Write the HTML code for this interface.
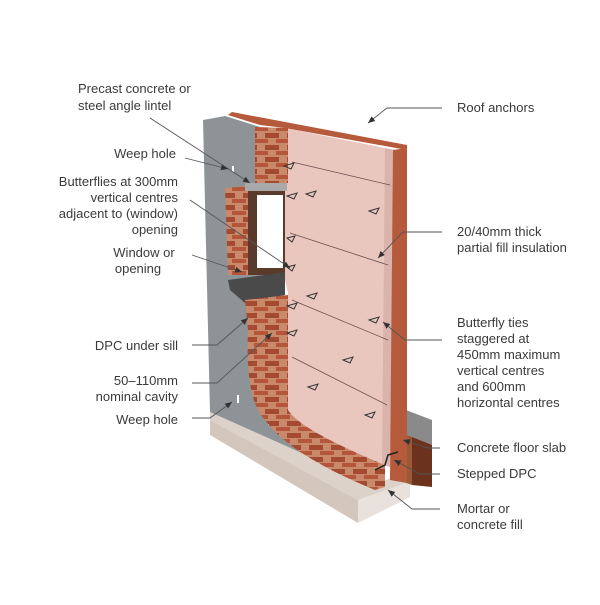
<!DOCTYPE html>
<html><head><meta charset="utf-8"><style>
html,body{margin:0;padding:0;background:#fff;}
svg text{font-family:"Liberation Sans",sans-serif;font-size:13px;fill:#3a3a3a;}
</style></head><body>
<svg width="600" height="600" viewBox="0 0 600 600" xmlns="http://www.w3.org/2000/svg">
<defs>
<pattern id="brick" width="22" height="12" patternUnits="userSpaceOnUse">
<rect width="22" height="12" fill="#c98a6c"/>
<rect x="1" y="1" width="14" height="5" fill="#a44a30"/>
<rect x="12" y="7" width="14" height="4" fill="#b5563a"/>
<rect x="-10" y="7" width="14" height="4" fill="#b5563a"/>
</pattern>
<marker id="ah" markerWidth="8" markerHeight="8" refX="7" refY="4" orient="auto" markerUnits="userSpaceOnUse">
<path d="M0,1 L7,4 L0,7 z" fill="#333"/></marker>
</defs>
<!-- foundation -->
<polygon points="210,410 380,482 410,472 410,482 358,500 210,420" fill="#ddd2ca"/>
<polygon points="210,420 358,500 358,523 210,435" fill="#d3c6bd"/>
<polygon points="358,500 410,482 410,497 358,523" fill="#e9e1db"/>
<!-- floor slab -->
<polygon points="398,407 432,420 432,445 398,432" fill="#8a8a8a"/>
<polygon points="398,432 412,437 412,485 398,480" fill="#9a5a38"/>
<polygon points="412,437 432,445 432,487 412,485" fill="#6b321e"/>
<!-- grey inner leaf -->
<polygon points="203,120 225,116 260,127 262,300 268,425 385,472 380,488 210,412" fill="#8e9398"/>
<!-- insulation -->
<polygon points="285,128 395,150 390,467 300,430 288,410 288,293 285,280" fill="#e9c6be"/>
<polygon points="385,148 395,150 390,467 382,464" fill="#d9b3ac"/>
<!-- outer leaf right edge -->
<polygon points="393,150 407,148 407,483 390,480" fill="#b55a3a"/>
<!-- outer leaf top edge -->
<polygon points="228,115 232,112 407,145 407,150 285,128 260,125" fill="#b55a3a"/>
<!-- bricks column top -->
<polygon points="255,127 288,128 288,183 255,183" fill="url(#brick)"/>
<!-- window reveal -->
<polygon points="225,188 248,186 248,275 228,275" fill="url(#brick)"/>
<rect x="248" y="190" width="37" height="85" fill="#5a3a2a"/>
<rect x="257" y="195" width="26" height="73" fill="#fff"/>
<polygon points="245,183 287,183 287,191 245,191" fill="#a9a9a9"/>
<!-- sill -->
<polygon points="228,280 285,272 285,295 245,303 230,290" fill="#4a4a4a"/>
<!-- bricks lower -->
<path d="M245,300 L288,295 L288,410 Q300,430 385,465 L385,487 L375,490 Q290,455 265,420 Q245,400 248,330 Z" fill="url(#brick)"/>
<!-- stepped dpc -->
<polyline points="375,470 385,465 388,455 398,452" fill="none" stroke="#222" stroke-width="1.5"/>
<!-- insulation lines -->
<g stroke="#6a5050" stroke-width="0.8">
<line x1="292" y1="162" x2="390" y2="185"/>
<line x1="290" y1="233" x2="388" y2="265"/>
<line x1="292" y1="300" x2="388" y2="340"/>
<line x1="292" y1="357" x2="387" y2="405"/>
</g>
<!-- ties -->
<g fill="none" stroke="#333" stroke-width="1">
<path d="M284,166 l10,-3 l-3,6 z"/><path d="M287,196 l10,-3 l-3,6 z"/><path d="M306,194 l10,-3 l-3,6 z"/>
<path d="M369,211 l10,-3 l-3,6 z"/><path d="M287,238 l8,-2 l-3,6 z"/><path d="M287,267 l8,-2 l-3,6 z"/>
<path d="M307,296 l10,-3 l-3,6 z"/><path d="M287,306 l10,-3 l-3,6 z"/><path d="M369,320 l10,-3 l-3,6 z"/>
<path d="M287,333 l10,-3 l-3,6 z"/><path d="M343,360 l10,-3 l-3,6 z"/><path d="M308,387 l10,-3 l-3,6 z"/>
<path d="M365,415 l10,-3 l-3,6 z"/>
</g>
<!-- weep holes -->
<rect x="232" y="166" width="2" height="6" fill="#fff"/>
<rect x="237" y="395" width="2" height="8" fill="#fff"/>
<!-- leaders -->
<g stroke="#555" stroke-width="0.9" fill="none" marker-end="url(#ah)">
<polyline points="150,118 250,183"/>
<polyline points="185,158 228,169"/>
<polyline points="190,200 290,268"/>
<polyline points="192,255 242,272"/>
<polyline points="192,345 217,345 248,318"/>
<polyline points="192,383 217,383 272,333"/>
<polyline points="192,418 210,418 232,402"/>
<polyline points="442,108 387,108 368,123"/>
<polyline points="442,232 403,232 378,258"/>
<polyline points="442,340 405,340 383,322"/>
<polyline points="440,448 428,448 403,440"/>
<polyline points="440,474 420,474 394,460"/>
<polyline points="440,509 412,509 388,490"/>
</g>
<!-- labels -->
<text x="78" y="93">Precast concrete or</text>
<text x="78" y="110">steel angle lintel</text>
<g text-anchor="end">
<text x="176" y="158">Weep hole</text>
<text x="178" y="186">Butterflies at 300mm</text>
<text x="178" y="202">vertical centres</text>
<text x="178" y="218">adjacent to (window)</text>
<text x="178" y="234">opening</text>
<text x="178" y="350">DPC under sill</text>
<text x="178" y="385">50–110mm</text>
<text x="178" y="401">nominal cavity</text>
<text x="178" y="424">Weep hole</text>
</g>
<g text-anchor="middle">
<text x="144" y="257">Window or</text>
<text x="138" y="273">opening</text>
</g>
<text x="457" y="112">Roof anchors</text>
<text x="457" y="236">20/40mm thick</text>
<text x="457" y="252">partial fill insulation</text>
<text x="457" y="327">Butterfly ties</text>
<text x="457" y="343">staggered at</text>
<text x="457" y="359">450mm maximum</text>
<text x="457" y="375">vertical centres</text>
<text x="457" y="391">and 600mm</text>
<text x="457" y="407">horizontal centres</text>
<text x="457" y="452">Concrete floor slab</text>
<text x="457" y="478">Stepped DPC</text>
<text x="457" y="513">Mortar or</text>
<text x="457" y="529">concrete fill</text>
</svg>
</body></html>
